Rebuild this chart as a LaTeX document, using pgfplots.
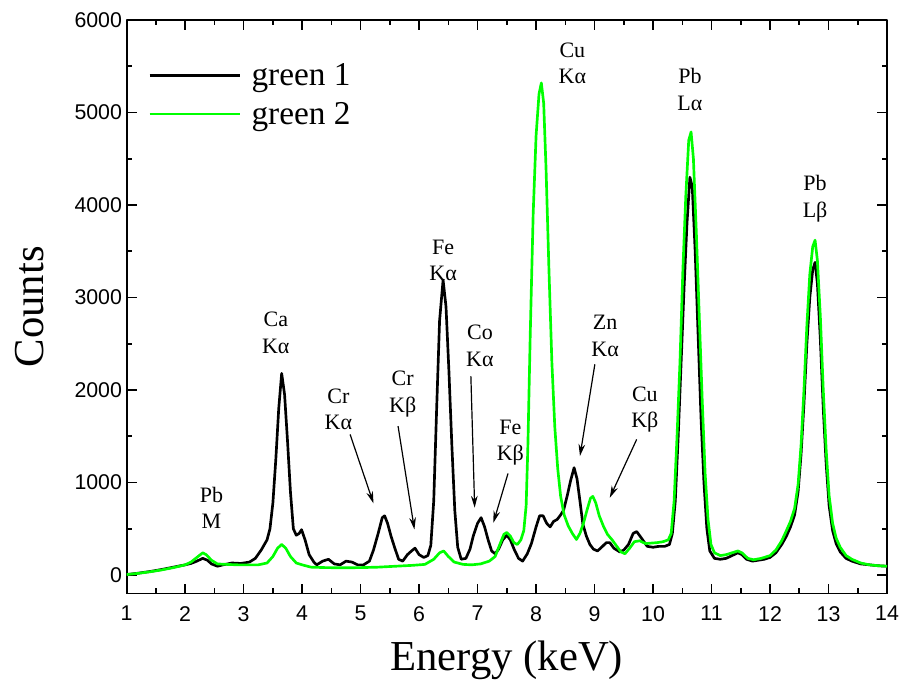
\documentclass[border=0pt]{standalone}
\usepackage{fontspec}
\setmainfont{Liberation Serif}
\newfontfamily\arialfont{Liberation Sans}
\usepackage{pgfplots}
\pgfplotsset{compat=1.18}
\usetikzlibrary{arrows.meta}
\definecolor{specgreen}{RGB}{0,255,0}

\begin{document}
\begin{tikzpicture}
\useasboundingbox (-95pt,-65.6pt) rectangle (586.7pt,445.1pt);
\begin{axis}[
  scale only axis,
  width=570.2pt, height=430.1pt,
  xmin=1, xmax=14, ymin=-200, ymax=6000,
  xtick={1,2,...,14}, minor x tick num=1,
  ytick={0,1000,...,6000}, minor y tick num=1,
  tick align=inside,
  major tick length=7.5pt, minor tick length=4pt,
  axis line style={line width=1.4pt},
  every tick/.style={line width=1.2pt, black},
  tick label style={font=\arialfont\fontsize{16}{18}\selectfont},
  /pgf/number format/assume math mode=true,
  /pgf/number format/1000 sep={},
  xticklabel style={yshift=-6pt},
  xlabel={Energy (keV)}, ylabel={Counts},
  label style={font=\fontsize{32}{36}\selectfont},
  xlabel style={at={(axis description cs:0.5,-0.1163)}, anchor=center},
  ylabel style={at={(axis description cs:-0.128,0.5)}, anchor=center},
  legend style={at={(axis description cs:0.028,0.925)}, anchor=north west,
    draw=none, fill=none, font=\fontsize{25}{30}\selectfont,
    row sep=11pt, column sep=7.5pt, inner sep=0pt,
    nodes={inner sep=0pt}},
  legend cell align=left,
  legend image code/.code={\draw[#1] (0pt,0pt) -- (68pt,0pt);},
  line join=round,
]
\addplot[black, line width=2pt] table {
1.00 5
1.20 20
1.40 38
1.60 60
1.80 85
2.00 110
2.10 125
2.20 150
2.30 180
2.38 160
2.45 120
2.55 95
2.65 110
2.80 130
2.95 125
3.10 140
3.20 180
3.30 270
3.40 380
3.45 500
3.50 780
3.55 1250
3.60 1800
3.65 2180
3.70 1950
3.75 1450
3.80 900
3.85 500
3.90 430
3.95 450
3.99 490
4.05 380
4.12 220
4.20 140
4.25 110
4.35 150
4.45 170
4.55 120
4.65 110
4.75 150
4.85 140
4.95 110
5.05 110
5.15 150
5.22 270
5.30 450
5.37 620
5.41 640
5.46 560
5.52 420
5.58 300
5.65 170
5.72 150
5.80 220
5.87 260
5.93 290
6.00 220
6.08 190
6.15 210
6.20 320
6.25 800
6.30 1800
6.35 2750
6.41 3190
6.46 2900
6.51 2200
6.56 1400
6.61 700
6.66 300
6.72 170
6.80 180
6.87 280
6.93 430
7.00 560
7.06 620
7.12 520
7.18 380
7.24 260
7.30 230
7.36 280
7.43 380
7.50 430
7.56 380
7.63 270
7.70 180
7.77 150
7.85 230
7.92 340
8.00 520
8.06 640
8.12 640
8.18 560
8.24 520
8.30 580
8.36 600
8.42 650
8.47 700
8.53 850
8.59 1020
8.65 1160
8.70 1040
8.75 800
8.80 550
8.86 420
8.92 330
8.98 280
9.05 260
9.12 300
9.20 350
9.26 350
9.33 290
9.43 250
9.50 270
9.58 330
9.66 450
9.72 470
9.80 400
9.90 310
10.00 300
10.10 310
10.20 310
10.28 330
10.33 450
10.38 800
10.43 1500
10.48 2300
10.53 3100
10.58 3800
10.63 4300
10.67 4200
10.72 3500
10.77 2600
10.82 1700
10.87 1000
10.92 500
10.97 260
11.05 180
11.15 170
11.25 180
11.35 210
11.45 240
11.52 220
11.60 170
11.70 150
11.80 160
11.90 170
12.00 190
12.10 240
12.20 330
12.28 420
12.35 520
12.42 650
12.48 900
12.53 1300
12.58 1850
12.63 2500
12.68 3000
12.73 3300
12.77 3380
12.81 3150
12.86 2550
12.91 1800
12.96 1200
13.01 750
13.07 480
13.13 340
13.20 250
13.30 180
13.40 150
13.55 120
13.70 110
13.85 100
14.00 95
};
\addlegendentry{green 1}
\addplot[specgreen, line width=2pt] table {
1.00 5
1.20 18
1.40 35
1.60 55
1.80 80
2.00 110
2.10 140
2.20 190
2.30 240
2.36 220
2.45 160
2.55 120
2.70 115
2.90 110
3.10 110
3.25 110
3.40 130
3.50 200
3.58 290
3.65 330
3.72 290
3.80 200
3.90 130
4.00 110
4.15 85
4.40 80
4.70 78
5.00 80
5.30 85
5.60 95
5.90 105
6.10 115
6.25 170
6.35 240
6.42 260
6.50 200
6.60 140
6.75 115
6.90 110
7.05 120
7.20 150
7.30 200
7.38 330
7.45 440
7.50 460
7.56 420
7.62 350
7.68 330
7.74 380
7.79 480
7.83 750
7.86 1400
7.90 2600
7.95 3900
8.00 4750
8.05 5200
8.09 5320
8.13 5100
8.17 4400
8.22 3300
8.27 2300
8.32 1600
8.37 1150
8.42 850
8.48 650
8.55 530
8.62 450
8.69 384
8.75 450
8.81 560
8.87 700
8.93 830
8.97 850
9.02 780
9.08 640
9.15 530
9.22 440
9.30 380
9.38 310
9.45 250
9.52 230
9.60 290
9.68 360
9.77 370
9.87 340
9.97 345
10.07 350
10.17 360
10.26 380
10.31 450
10.36 800
10.41 1500
10.46 2300
10.51 3300
10.56 4100
10.61 4700
10.65 4790
10.69 4500
10.74 3700
10.79 2800
10.84 1900
10.89 1100
10.94 600
10.99 330
11.05 240
11.15 210
11.25 220
11.35 240
11.45 260
11.52 240
11.62 180
11.72 165
11.85 180
12.00 210
12.10 270
12.20 370
12.28 480
12.35 580
12.42 720
12.48 980
12.53 1400
12.58 2000
12.63 2700
12.68 3250
12.73 3550
12.77 3620
12.81 3400
12.86 2800
12.91 2000
12.96 1350
13.01 860
13.07 560
13.13 400
13.20 300
13.30 210
13.40 170
13.55 130
13.70 110
13.85 100
14.00 95
};
\addlegendentry{green 2}

\begin{scope}[every node/.style={align=center, font=\fontsize{16.5}{20}\selectfont, inner sep=0pt}]
\node at (axis cs:2.45,725) {Pb\\M};
\node at (axis cs:3.55,2620) {Ca\\Kα};
\node at (axis cs:4.62,1790) {Cr\\Kα};
\node at (axis cs:5.72,1953) {Cr\\Kβ};
\node at (axis cs:6.41,3400) {Fe\\Kα};
\node at (axis cs:7.04,2480) {Co\\Kα};
\node at (axis cs:7.56,1430) {Fe\\Kβ};
\node at (axis cs:8.62,5530) {Cu\\Kα};
\node at (axis cs:9.18,2584) {Zn\\Kα};
\node at (axis cs:9.86,1790) {Cu\\Kβ};
\node at (axis cs:10.63,5250) {Pb\\Lα};
\node at (axis cs:12.77,4070) {Pb\\Lβ};
\end{scope}

\begin{scope}[-{Stealth[length=9pt,width=5pt]}, line width=0.9pt]
\draw (axis cs:4.82,1520) -- (axis cs:5.22,774);
\draw (axis cs:5.64,1610) -- (axis cs:5.92,492);
\draw (axis cs:6.885,2150) -- (axis cs:6.95,727);
\draw (axis cs:7.52,1098) -- (axis cs:7.27,565);
\draw (axis cs:9.005,2278) -- (axis cs:8.75,1286);
\draw (axis cs:9.72,1466) -- (axis cs:9.26,835);
\end{scope}
\end{axis}
\end{tikzpicture}
\end{document}
